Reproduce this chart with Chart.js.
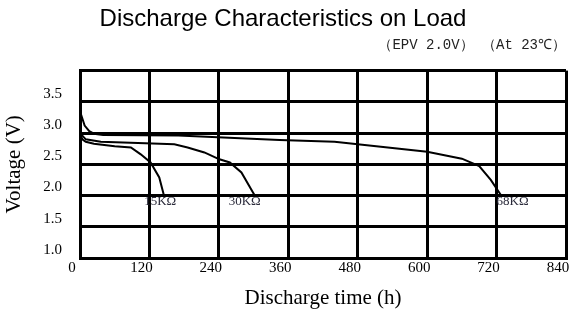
<!DOCTYPE html>
<html>
<head>
<meta charset="utf-8">
<script src="https://cdn.jsdelivr.net/npm/chart.js@4"></script>
<style>
  html, body { margin: 0; padding: 0; background: #fff; }
  #wrap { width: 569px; height: 313px; }
</style>
</head>
<body>
<div id="wrap"><canvas id="chart" width="569" height="313"></canvas></div>
<script>
// discharge curves, hours vs volts
const hours15k = [0, 4, 10, 24, 60, 88, 105, 122, 137, 146];
const volts15k = [3.0, 2.9, 2.86, 2.83, 2.79, 2.77, 2.66, 2.53, 2.29, 1.97];

const hours30k = [0, 4, 10, 36, 100, 163, 186, 215, 241, 259, 279, 302];
const volts30k = [3.05, 2.96, 2.9, 2.86, 2.84, 2.82, 2.77, 2.69, 2.58, 2.53, 2.37, 2.0];

const hours68k = [0, 8, 16, 24, 40, 170, 345, 440, 520, 600, 660, 690, 710, 728];
const volts68k = [3.35, 3.12, 3.03, 2.99, 2.97, 2.96, 2.89, 2.86, 2.78, 2.7, 2.59, 2.47, 2.25, 2.0];

const loadLabels = ['15KΩ', '30KΩ', '68KΩ'];
const labelHours = [111, 257, 720];
const labelVolts = [1.9, 1.9, 1.9];

function pts(xs, ys) {
    return xs.map((x, i) => ({x: x, y: ys[i]}));
}

// writes the load names next to the curve ends
const loadNames = {
    id: 'loadNames',
    afterDatasetsDraw(chart) {
        const ctx = chart.ctx;
        const sx = chart.scales.x, sy = chart.scales.y;
        ctx.save();
        ctx.font = '13px "Liberation Serif"';
        ctx.fillStyle = '#2a2a3a';
        ctx.textAlign = 'left';
        ctx.textBaseline = 'middle';
        loadLabels.forEach((t, i) => {
            ctx.fillText(t, sx.getPixelForValue(labelHours[i]), sy.getPixelForValue(labelVolts[i]));
        });
        ctx.restore();
    }
};

const lineStyle = {borderColor: '#000', borderWidth: 2, pointRadius: 0, tension: 0, fill: false};

new Chart(document.getElementById('chart'), {
    type: 'line',
    data: {
        datasets: [
            Object.assign({label: '15K', data: pts(hours15k, volts15k)}, lineStyle),
            Object.assign({label: '30K', data: pts(hours30k, volts30k)}, lineStyle),
            Object.assign({label: '68K', data: pts(hours68k, volts68k)}, lineStyle)
        ]
    },
    options: {
        responsive: false,
        animation: false,
        layout: {padding: {left: 0, right: 3, top: 0, bottom: 0}},
        plugins: {
            legend: {display: false},
            tooltip: {enabled: false},
            title: {
                display: true,
                text: 'Discharge Characteristics on Load',
                color: '#000',
                font: {family: '"Liberation Sans"', size: 24, weight: 'normal'},
                padding: {top: 5, bottom: 2}
            },
            subtitle: {
                display: true,
                text: '（EPV 2.0V） （At 23℃）',
                align: 'end',
                color: '#222',
                font: {family: '"Liberation Mono"', size: 14},
                padding: {top: 1, bottom: 17}
            }
        },
        scales: {
            x: {
                type: 'linear',
                min: 0,
                max: 840,
                afterFit: s => { s.height = 55; s.paddingRight = 0; s.paddingLeft = 0; },
                ticks: {stepSize: 120, color: '#000', padding: 1, labelOffset: -8,
                        font: {family: '"Liberation Serif"', size: 15}},
                grid: {color: '#000', lineWidth: 3, drawTicks: false},
                border: {color: '#000', width: 3},
                title: {display: true, text: 'Discharge time (h)', color: '#000',
                        font: {family: '"Liberation Serif"', size: 21}, padding: {top: 0, bottom: 2}}
            },
            y: {
                min: 1,
                max: 4,
                afterFit: s => { s.width = 80; },
                ticks: {stepSize: 0.5, color: '#000', padding: 18, labelOffset: -8,
                        font: {family: '"Liberation Serif"', size: 15},
                        callback: v => v >= 4 ? '' : v.toFixed(1)},
                grid: {color: '#000', lineWidth: 3, drawTicks: false},
                border: {color: '#000', width: 3},
                title: {display: true, text: 'Voltage (V)', color: '#000',
                        font: {family: '"Liberation Serif"', size: 21}, padding: {top: 2, bottom: 0}}
            }
        }
    },
    plugins: [loadNames]
});
</script>
</body>
</html>
